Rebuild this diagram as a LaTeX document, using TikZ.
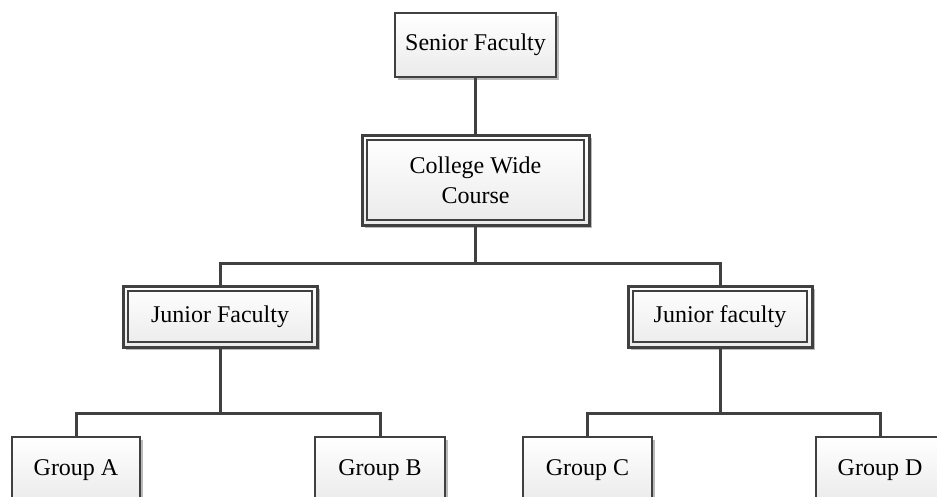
\documentclass[tikz,border=0pt]{standalone}
\usepackage{fontspec}
\setmainfont{Liberation Serif}
\usetikzlibrary{shadows,calc}
\definecolor{edge}{HTML}{404040}
\begin{document}
\begin{tikzpicture}[x=1pt,y=-1pt,
  box/.style={draw=edge, line width=2.6pt, top color=white, bottom color=black!8,
    drop shadow={shadow xshift=2.5pt, shadow yshift=-2.5pt, fill=black!45, opacity=0.6},
    font=\fontsize{24}{30}\selectfont, align=center, inner sep=0pt},
  dbox/.style={box, line width=3pt},
  innerframe/.style={draw=edge, line width=1.5pt},
  conn/.style={draw=edge, line width=3pt, line join=miter, line cap=rect}]
\clip (0,0) rectangle (937,496);
\fill[white] (0,0) rectangle (937,496);

\node[box, minimum width=161pt, minimum height=64pt] (senior) at (475.5,45) {Senior Faculty};
\node[dbox, minimum width=227pt, minimum height=90pt] (college) at (475.5,180) {College Wide\\Course};
\node[dbox, minimum width=194pt, minimum height=61pt] (jf1) at (220,316.5) {Junior Faculty};
\node[dbox, minimum width=184pt, minimum height=61pt] (jf2) at (720,316.5) {Junior faculty};
\node[box, minimum width=128pt, minimum height=66pt] (ga) at (76,470) {Group A};
\node[box, minimum width=130pt, minimum height=66pt] (gb) at (380,470) {Group B};
\node[box, minimum width=129pt, minimum height=66pt] (gc) at (587.5,470) {Group C};
\node[box, minimum width=128pt, minimum height=66pt] (gd) at (880,470) {Group D};

\draw[innerframe] ($(college.north west)+(6.3,6.3)$) rectangle ($(college.south east)+(-6.3,-6.3)$);
\draw[innerframe] ($(jf1.north west)+(6.3,6.3)$) rectangle ($(jf1.south east)+(-6.3,-6.3)$);
\draw[innerframe] ($(jf2.north west)+(6.3,6.3)$) rectangle ($(jf2.south east)+(-6.3,-6.3)$);

\coordinate (bus1) at (0,263);
\coordinate (bus2) at (0,413);

\draw[conn] (senior.south) -- (college.north);
\draw[conn] (college.south) -- (college.south |- bus1) -| (jf1.north);
\draw[conn] (college.south |- bus1) -| (jf2.north);
\draw[conn] (jf1.south) -- (jf1.south |- bus2) -| (ga.north);
\draw[conn] (jf1.south |- bus2) -| (gb.north);
\draw[conn] (jf2.south) -- (jf2.south |- bus2) -| (gc.north);
\draw[conn] (jf2.south |- bus2) -| (gd.north);
\end{tikzpicture}
\end{document}
